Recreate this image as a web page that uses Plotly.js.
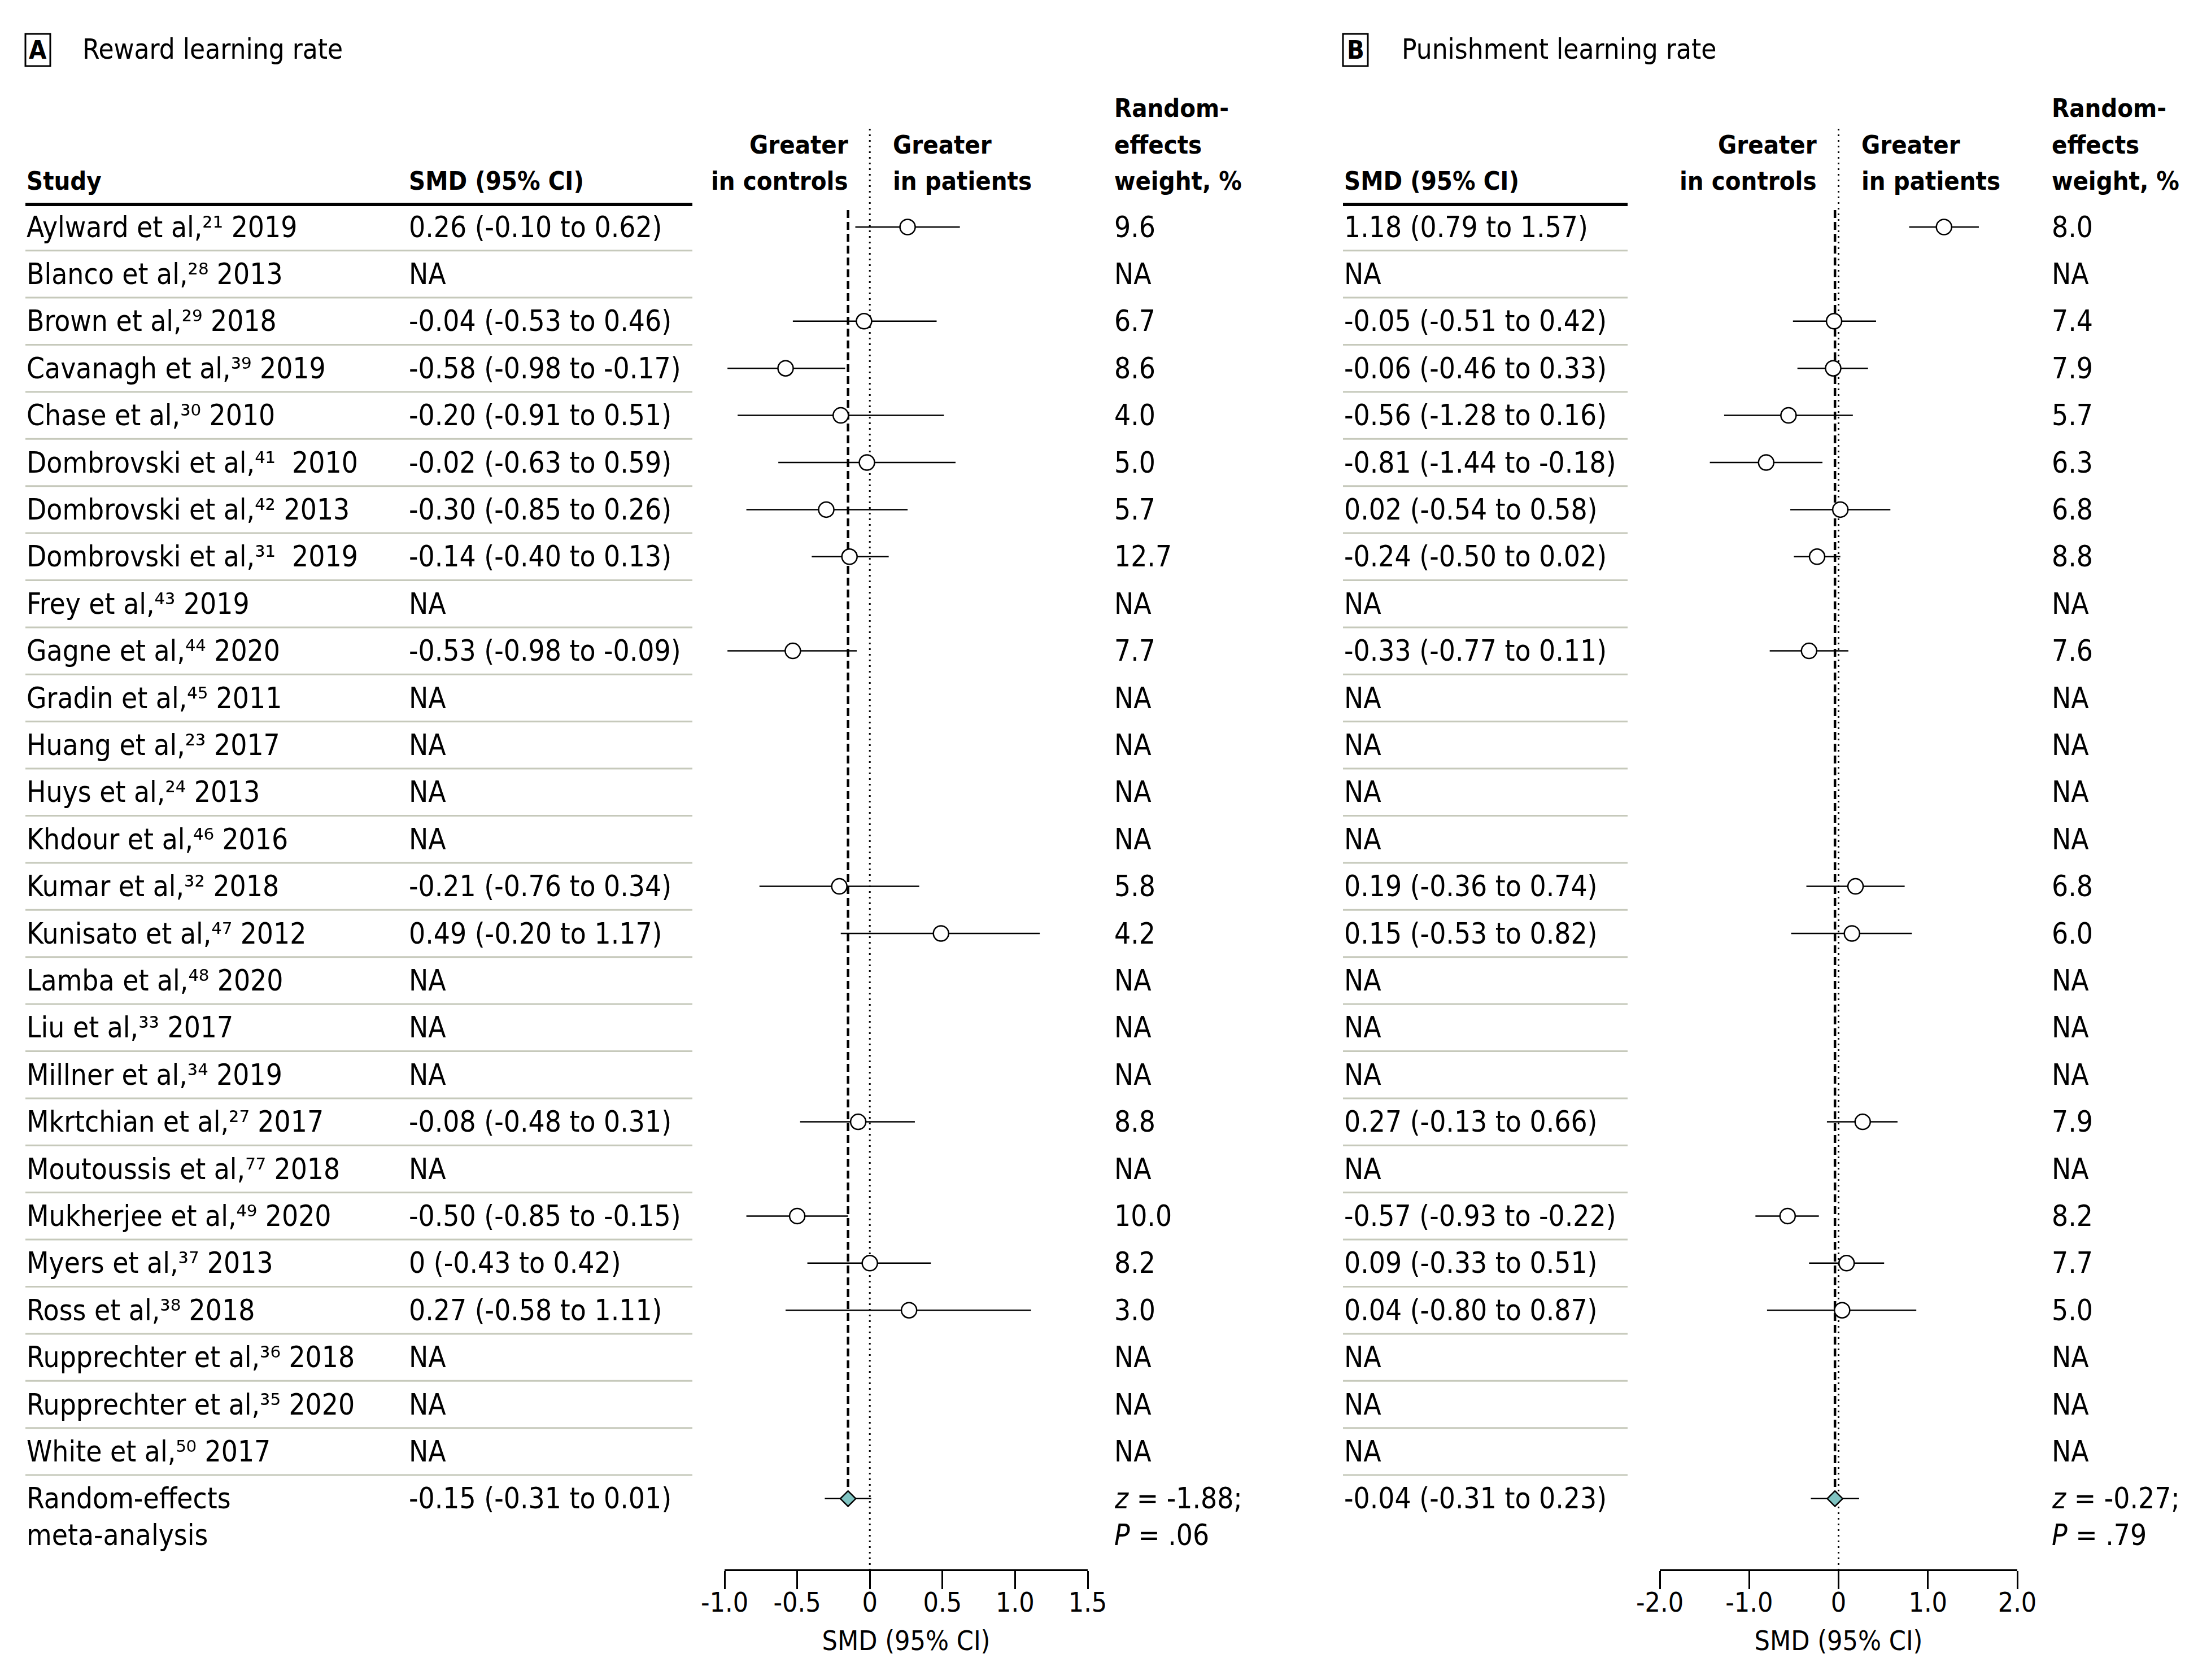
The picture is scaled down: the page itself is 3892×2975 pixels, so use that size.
<!DOCTYPE html>
<html>
<head>
<meta charset="utf-8">
<script src="https://cdn.plot.ly/plotly-3.0.1.min.js"></script>
<style>html,body{margin:0;padding:0;background:#fff;}#chart{width:3892px;height:2975px;}</style>
</head>
<body>
<div id="chart"></div>
<script>
// ---------------- DATA ----------------
const studyNames = ["Aylward et al,", "Blanco et al,", "Brown et al,", "Cavanagh et al,", "Chase et al,",
  "Dombrovski et al,", "Dombrovski et al,", "Dombrovski et al,", "Frey et al,", "Gagne et al,",
  "Gradin et al,", "Huang et al,", "Huys et al,", "Khdour et al,", "Kumar et al,", "Kunisato et al,",
  "Lamba et al,", "Liu et al,", "Millner et al,", "Mkrtchian et al,", "Moutoussis et al,",
  "Mukherjee et al,", "Myers et al,", "Ross et al,", "Rupprechter et al,", "Rupprechter et al,", "White et al,"];
const studyRefs = ["21", "28", "29", "39", "30", "41", "42", "31", "43", "44", "45", "23", "24", "46", "32", "47",
  "48", "33", "34", "27", "77", "49", "37", "38", "36", "35", "50"];
const studyYears = ["2019", "2013", "2018", "2019", "2010", " 2010", "2013", " 2019", "2019", "2020", "2011", "2017",
  "2013", "2016", "2018", "2012", "2020", "2017", "2019", "2017", "2018", "2020", "2013", "2018", "2018", "2020", "2017"];

// Panel A: reward learning rate
const rewardSMD = [0.26, null, -0.04, -0.58, -0.20, -0.02, -0.30, -0.14, null, -0.53, null, null, null, null,
  -0.21, 0.49, null, null, null, -0.08, null, -0.50, 0, 0.27, null, null, null];
const rewardLo = [-0.10, null, -0.53, -0.98, -0.91, -0.63, -0.85, -0.40, null, -0.98, null, null, null, null,
  -0.76, -0.20, null, null, null, -0.48, null, -0.85, -0.43, -0.58, null, null, null];
const rewardHi = [0.62, null, 0.46, -0.17, 0.51, 0.59, 0.26, 0.13, null, -0.09, null, null, null, null,
  0.34, 1.17, null, null, null, 0.31, null, -0.15, 0.42, 1.11, null, null, null];
const rewardWeight = [9.6, null, 6.7, 8.6, 4.0, 5.0, 5.7, 12.7, null, 7.7, null, null, null, null,
  5.8, 4.2, null, null, null, 8.8, null, 10.0, 8.2, 3.0, null, null, null];
const rewardPooled = [-0.15, -0.31, 0.01];   // estimate, lower, upper
const rewardZ = "-1.88";
const rewardP = ".06";

// Panel B: punishment learning rate
const punishSMD = [1.18, null, -0.05, -0.06, -0.56, -0.81, 0.02, -0.24, null, -0.33, null, null, null, null,
  0.19, 0.15, null, null, null, 0.27, null, -0.57, 0.09, 0.04, null, null, null];
const punishLo = [0.79, null, -0.51, -0.46, -1.28, -1.44, -0.54, -0.50, null, -0.77, null, null, null, null,
  -0.36, -0.53, null, null, null, -0.13, null, -0.93, -0.33, -0.80, null, null, null];
const punishHi = [1.57, null, 0.42, 0.33, 0.16, -0.18, 0.58, 0.02, null, 0.11, null, null, null, null,
  0.74, 0.82, null, null, null, 0.66, null, -0.22, 0.51, 0.87, null, null, null];
const punishWeight = [8.0, null, 7.4, 7.9, 5.7, 6.3, 6.8, 8.8, null, 7.6, null, null, null, null,
  6.8, 6.0, null, null, null, 7.9, null, 8.2, 7.7, 5.0, null, null, null];
const punishPooled = [-0.04, -0.31, 0.23];
const punishZ = "-0.27";
const punishP = ".79";

const rewardTicks = [-1.0, -0.5, 0, 0.5, 1.0, 1.5];
const rewardTickText = ["-1.0", "-0.5", "0", "0.5", "1.0", "1.5"];
const punishTicks = [-2.0, -1.0, 0, 1.0, 2.0];
const punishTickText = ["-2.0", "-1.0", "0", "1.0", "2.0"];

// ---------------- LAYOUT HELPERS ----------------
const W = 3892, H = 2975;
const ROW0 = 402, ROWH = 83.4;
const px = x => x / W;
const py = y => 1 - y / H;
const rowOf = y => (y - ROW0) / ROWH;
const FONT = "'Liberation Sans Narrow', 'DejaVu Sans Condensed', 'Roboto Condensed', 'Arial Narrow', sans-serif";
const FS = 51;      // regular text
const FSB = 45;     // bold header text
const nRows = studyNames.length;
const metaRow = nRows;
const SUP = "⁰¹²³⁴⁵⁶⁷⁸⁹";
const toSup = s => s.replace(/\d/g, d => SUP[+d]);

const fmt = v => (v === 0 ? "0" : v.toFixed(2));
const ciText = (e, l, h) => `${fmt(e)} (${fmt(l)} to ${fmt(h)})`;

const annotations = [];
const shapes = [];
function txt(x, yRow, text, opts = {}) {
  annotations.push(Object.assign({
    x: px(x), xref: "paper", y: yRow, yref: "y", text: text, showarrow: false,
    xanchor: "left", yanchor: "middle", font: {family: FONT, size: FS, color: "#000"}
  }, opts));
}
function hdr(x, yRow, text, anchor) {
  txt(x, yRow, `<b>${text}</b>`, {xanchor: anchor || "left", font: {family: FONT, size: FSB, color: "#000"}});
}

// Columns (pixels)
const colStudy = 45, colSmdA = 722, colWA = 1971, colSmdB = 2378, colWB = 3631;
const tableAEnd = 1226, tableBEnd = 2882;

// Panel titles
shapes.push({type: "rect", xref: "paper", yref: "paper", x0: px(45), x1: px(89), y0: py(60), y1: py(117),
  line: {color: "#000", width: 3}, fillcolor: "rgba(0,0,0,0)"});
annotations.push({x: px(67), xref: "paper", y: rowOf(88), yref: "y", text: "<b>A</b>", showarrow: false,
  xanchor: "center", yanchor: "middle", font: {family: FONT, size: FSB, color: "#000"}});
txt(144, rowOf(87), "Reward learning rate", {font: {family: FONT, size: 49, color: "#000"}});
shapes.push({type: "rect", xref: "paper", yref: "paper", x0: px(2378), x1: px(2422), y0: py(60), y1: py(117),
  line: {color: "#000", width: 3}, fillcolor: "rgba(0,0,0,0)"});
annotations.push({x: px(2400), xref: "paper", y: rowOf(88), yref: "y", text: "<b>B</b>", showarrow: false,
  xanchor: "center", yanchor: "middle", font: {family: FONT, size: FSB, color: "#000"}});
txt(2480, rowOf(87), "Punishment learning rate", {font: {family: FONT, size: 49, color: "#000"}});

// Header rows
const hTop = rowOf(191), hMid = rowOf(256), hBot = rowOf(320);
hdr(colStudy, hBot, "Study");
hdr(colSmdA, hBot, "SMD (95% CI)");
hdr(1504, hMid, "Greater", "right");
hdr(1504, hBot, "in controls", "right");
hdr(1579, hMid, "Greater");
hdr(1579, hBot, "in patients");
hdr(colWA, hTop, "Random-");
hdr(colWA, hMid, "effects");
hdr(colWA, hBot, "weight, %");
hdr(colSmdB, hBot, "SMD (95% CI)");
hdr(3219, hMid, "Greater", "right");
hdr(3219, hBot, "in controls", "right");
hdr(3294, hMid, "Greater");
hdr(3294, hBot, "in patients");
hdr(colWB, hTop, "Random-");
hdr(colWB, hMid, "effects");
hdr(colWB, hBot, "weight, %");

// Header rules
const ruleRow = rowOf(362);
shapes.push({type: "line", xref: "paper", yref: "y", x0: px(colStudy), x1: px(tableAEnd), y0: ruleRow, y1: ruleRow,
  line: {color: "#000", width: 6}});
shapes.push({type: "line", xref: "paper", yref: "y", x0: px(colSmdB), x1: px(tableBEnd), y0: ruleRow, y1: ruleRow,
  line: {color: "#000", width: 6}});

// Table rows
for (let i = 0; i < nRows; i++) {
  txt(colStudy, i, `${studyNames[i]}${toSup(studyRefs[i])} ${studyYears[i]}`);
  txt(colSmdA, i, rewardSMD[i] === null ? "NA" : ciText(rewardSMD[i], rewardLo[i], rewardHi[i]));
  txt(colWA, i, rewardWeight[i] === null ? "NA" : rewardWeight[i].toFixed(1));
  txt(colSmdB, i, punishSMD[i] === null ? "NA" : ciText(punishSMD[i], punishLo[i], punishHi[i]));
  txt(colWB, i, punishWeight[i] === null ? "NA" : punishWeight[i].toFixed(1));
  const sep = i + 0.5;
  shapes.push({type: "line", xref: "paper", yref: "y", x0: px(colStudy), x1: px(tableAEnd), y0: sep, y1: sep,
    line: {color: "#c6c9bb", width: 3}});
  shapes.push({type: "line", xref: "paper", yref: "y", x0: px(colSmdB), x1: px(tableBEnd), y0: sep, y1: sep,
    line: {color: "#c6c9bb", width: 3}});
}
// Meta-analysis row
const metaRow2 = rowOf(2718);
txt(colStudy, metaRow, "Random-effects");
txt(colStudy, metaRow2, "meta-analysis");
txt(colSmdA, metaRow, ciText(...rewardPooled));
txt(colWA, metaRow, `<i>z</i> = ${rewardZ};`);
txt(colWA, metaRow2, `<i>P</i> = ${rewardP}`);
txt(colSmdB, metaRow, ciText(...punishPooled));
txt(colWB, metaRow, `<i>z</i> = ${punishZ};`);
txt(colWB, metaRow2, `<i>P</i> = ${punishP}`);

// Reference lines
const axisY = 2780;
const dotTop = rowOf(228), dotBot = rowOf(axisY);
const dotStyle = {color: "#000", width: 3, dash: "3px,7px"};
const dashStyle = {color: "#000", width: 4.5, dash: "14px,7px"};
shapes.push({type: "line", xref: "x", yref: "y", x0: 0, x1: 0, y0: dotTop, y1: dotBot, layer: "below", line: dotStyle});
shapes.push({type: "line", xref: "x2", yref: "y", x0: 0, x1: 0, y0: dotTop, y1: dotBot, layer: "below", line: dotStyle});
shapes.push({type: "line", xref: "x", yref: "y", x0: rewardPooled[0], x1: rewardPooled[0], y0: rowOf(372), y1: metaRow,
  layer: "below", line: dashStyle});
shapes.push({type: "line", xref: "x2", yref: "y", x0: punishPooled[0], x1: punishPooled[0], y0: rowOf(372), y1: metaRow,
  layer: "below", line: dashStyle});

// ---------------- TRACES ----------------
const rows = studyNames.map((_, i) => i);
function studyTrace(est, lo, hi, xa) {
  return {
    type: "scatter", mode: "markers", xaxis: xa, yaxis: "y", x: est, y: rows,
    error_x: {type: "data", symmetric: false,
      array: est.map((e, i) => e === null ? null : hi[i] - e),
      arrayminus: est.map((e, i) => e === null ? null : e - lo[i]),
      width: 0, thickness: 2.5, color: "#000"},
    marker: {symbol: "circle", size: 27, color: "#fff", line: {color: "#000", width: 2.5}},
    hoverinfo: "x+y", showlegend: false
  };
}
function pooledTrace(p, xa) {
  return {
    type: "scatter", mode: "markers", xaxis: xa, yaxis: "y", x: [p[0]], y: [metaRow],
    error_x: {type: "data", symmetric: false, array: [p[2] - p[0]], arrayminus: [p[0] - p[1]],
      width: 0, thickness: 2.5, color: "#000"},
    marker: {symbol: "diamond", size: 21, color: "#80c4c2", line: {color: "#000", width: 2.5}},
    showlegend: false
  };
}
const traces = [
  studyTrace(rewardSMD, rewardLo, rewardHi, "x"),
  pooledTrace(rewardPooled, "x"),
  studyTrace(punishSMD, punishLo, punishHi, "x2"),
  pooledTrace(punishPooled, "x2")
];

const axisCommon = {
  anchor: "free", position: 1 - axisY / H, showline: true, linecolor: "#000", linewidth: 3,
  ticks: "outside", ticklen: 32, tickwidth: 3, tickcolor: "#000", showgrid: false, zeroline: false,
  ticklabelstandoff: -18,
  tickfont: {family: FONT, size: 48, color: "#000"}, fixedrange: true
};
const layout = {
  width: W, height: H, margin: {l: 0, r: 0, t: 0, b: 0}, paper_bgcolor: "#fff", plot_bgcolor: "rgba(0,0,0,0)",
  showlegend: false, font: {family: FONT, size: FS, color: "#000"},
  xaxis: Object.assign({}, axisCommon, {domain: [px(1283), px(1926)], range: [-1, 1.5],
    tickmode: "array", tickvals: rewardTicks, ticktext: rewardTickText,
    title: {text: "SMD (95% CI)", font: {family: FONT, size: 48, color: "#000"}, standoff: 24}}),
  xaxis2: Object.assign({}, axisCommon, {domain: [px(2939), px(3572)], range: [-2, 2],
    tickmode: "array", tickvals: punishTicks, ticktext: punishTickText,
    title: {text: "SMD (95% CI)", font: {family: FONT, size: 48, color: "#000"}, standoff: 24}}),
  yaxis: {domain: [0, 1], range: [(H - ROW0) / ROWH, -ROW0 / ROWH], visible: false, fixedrange: true},
  shapes: shapes, annotations: annotations
};
Plotly.newPlot("chart", traces, layout, {displayModeBar: false, staticPlot: true});
</script>
</body>
</html>
